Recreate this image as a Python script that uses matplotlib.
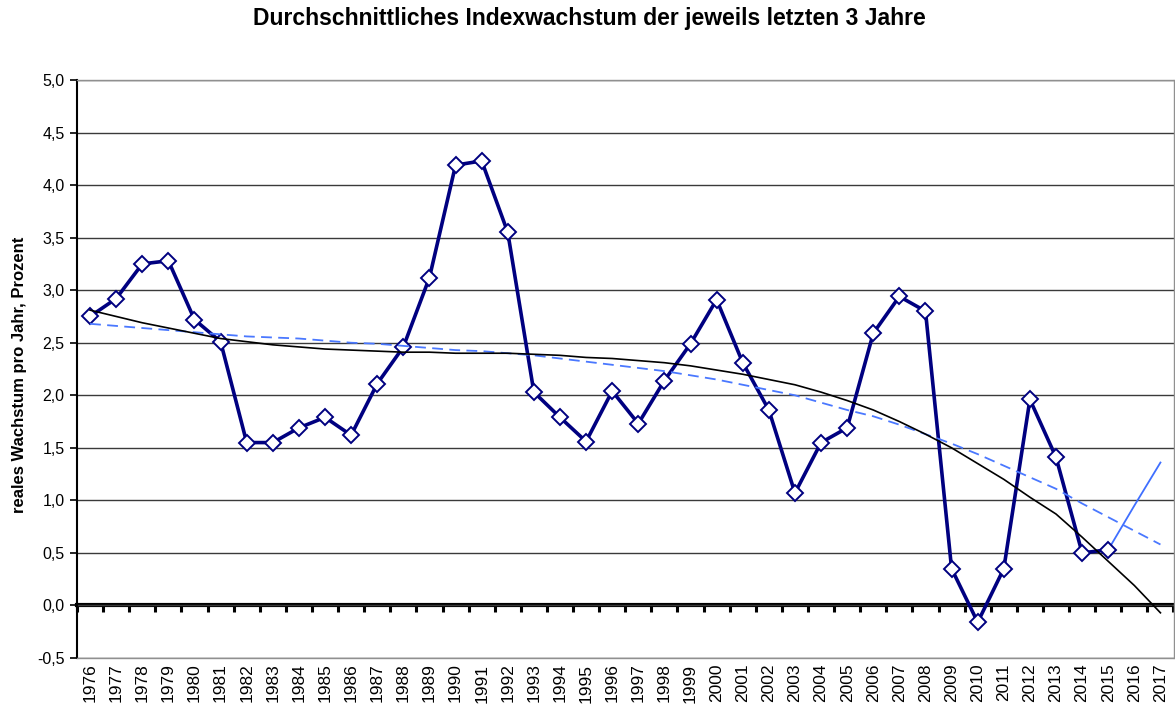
import matplotlib
matplotlib.use("Agg")
import matplotlib.pyplot as plt
import numpy as np

plt.rcParams['font.family'] = ['Liberation Sans', 'DejaVu Sans']

years = list(range(1976, 2018))
# Average real index growth of the last 3 years (percent)
growth = [2.75, 2.92, 3.25, 3.28, 2.72, 2.51, 1.55, 1.55, 1.69, 1.79,
          1.62, 2.11, 2.46, 3.12, 4.19, 4.23, 3.55, 2.03, 1.79, 1.56,
          2.04, 1.73, 2.14, 2.49, 2.91, 2.31, 1.86, 1.07, 1.55, 1.69,
          2.59, 2.94, 2.80, 0.35, -0.16, 0.35, 1.96, 1.41, 0.50, 0.53]
# Thin light-blue continuation 2015-2017
proj_years = [2015, 2016, 2017]
proj_values = [0.53, 0.95, 1.36]
# Black polynomial trend
trend_black = [2.81, 2.75, 2.69, 2.64, 2.59, 2.54, 2.51, 2.48, 2.46, 2.44,
               2.43, 2.42, 2.41, 2.41, 2.40, 2.40, 2.40, 2.39, 2.38, 2.36,
               2.35, 2.33, 2.31, 2.28, 2.24, 2.20, 2.15, 2.10, 2.03, 1.95,
               1.86, 1.75, 1.63, 1.50, 1.35, 1.20, 1.03, 0.87, 0.65, 0.42,
               0.19, -0.07]
# Blue dashed trend
trend_blue = [2.68, 2.66, 2.64, 2.62, 2.60, 2.58, 2.56, 2.55, 2.54, 2.52,
              2.50, 2.49, 2.47, 2.45, 2.43, 2.42, 2.40, 2.38, 2.35, 2.32,
              2.29, 2.26, 2.23, 2.19, 2.15, 2.10, 2.05, 2.00, 1.93, 1.86,
              1.80, 1.72, 1.63, 1.54, 1.44, 1.33, 1.22, 1.11, 0.97, 0.84,
              0.71, 0.58]
yticks = [-0.5, 0.0, 0.5, 1.0, 1.5, 2.0, 2.5, 3.0, 3.5, 4.0, 4.5, 5.0]

title = "Durchschnittliches Indexwachstum der jeweils letzten 3 Jahre"
ylabel = "reales Wachstum pro Jahr, Prozent"

fig = plt.figure(figsize=(11.75, 7.08), dpi=100)
ax = fig.add_axes([77/1175, 1-658/708, (1173.5-77)/1175, (658-80)/708])

pos = {y: i for i, y in enumerate(years)}
xg = [pos[y] for y in years[:len(growth)]]
xp = [pos[y] for y in proj_years]
xall = [pos[y] for y in years]

for v in yticks:
    ax.axhline(v, color='#3a3a3a', lw=1.0, zorder=1)

ax.plot(xp, proj_values, color='#3f6fff', lw=1.3, zorder=3)
ax.plot(xg, growth, color='#000080', lw=2.6, marker='D', ms=8,
        mfc='white', mec='#000080', mew=1.4, zorder=4)
ax.plot(xall, trend_blue, color='#4a78ff', lw=1.3, ls=(0, (6, 3.5)), zorder=5)
ax.plot(xall, trend_black, color='black', lw=1.2, zorder=5)

ax.set_xlim(-0.5, len(years) - 0.5)
ax.set_ylim(-0.5, 5.0)
ax.set_yticks(yticks)
ax.set_yticklabels([f"{v:.1f}".replace('.', ',') for v in yticks], fontsize=11.5)
ax.set_xticks(xall)
ax.set_xticklabels([str(y) for y in years], rotation=90, fontsize=12.5)
ax.tick_params(axis='x', length=0, pad=4)
ax.tick_params(axis='y', direction='out', length=5, width=1.2, pad=4)

for s in ['top', 'right', 'bottom']:
    ax.spines[s].set_color('#909090')
    ax.spines[s].set_linewidth(1.0)
ax.spines['left'].set_color('black')
ax.spines['left'].set_linewidth(1.5)

# zero-line category axis with tick marks between categories
sec = ax.secondary_xaxis(0.5 / 5.5)
sec.set_xticks([i - 0.5 for i in range(len(years) + 1)])
sec.set_xticklabels([])
sec.tick_params(direction='out', length=5, width=2.2, color='black')
sec.spines['bottom'].set_linewidth(3)
sec.spines['bottom'].set_color('black')

ax.set_ylabel(ylabel, fontsize=12, fontweight='bold', labelpad=12)
ax.yaxis.set_label_coords(-0.0455, 0.49)
fig.text(0.502, 1 - 19/708, title, ha='center', va='center',
         fontsize=16.5, fontweight='bold')

fig.savefig('out.png', dpi=100)
